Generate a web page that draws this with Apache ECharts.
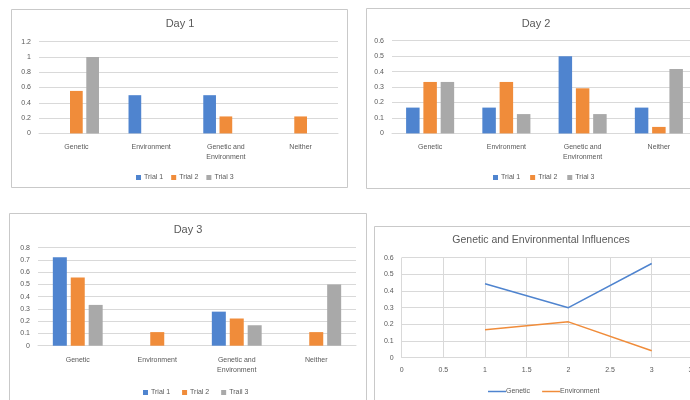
<!DOCTYPE html>
<html>
<head>
<meta charset="utf-8">
<script src="https://cdn.jsdelivr.net/npm/echarts@6/dist/echarts.min.js"></script>
<style>
  html, body { margin: 0; padding: 0; background: #ffffff; }
  #chart { width: 690px; height: 400px; }
</style>
</head>
<body>
<div id="chart"></div>
<script>
// Categories shared by the three daily bar charts
const categories = ['Genetic', 'Environment', 'Genetic and\nEnvironment', 'Neither'];

// Day 1 shares per trial
const day1Trial1 = [0, 0.5, 0.5, 0];
const day1Trial2 = [0.556, 0, 0.222, 0.222];
const day1Trial3 = [1, 0, 0, 0];

// Day 2 shares per trial
const day2Trial1 = [0.167, 0.167, 0.5, 0.167];
const day2Trial2 = [0.333, 0.333, 0.292, 0.042];
const day2Trial3 = [0.333, 0.125, 0.125, 0.417];

// Day 3 shares per trial
const day3Trial1 = [0.722, 0, 0.278, 0];
const day3Trial2 = [0.556, 0.111, 0.222, 0.111];
const day3Trial3 = [0.333, 0, 0.167, 0.5];

// Influence over days
const dayNumbers = [1, 2, 3];
const geneticInfluence = [0.444, 0.3, 0.565];
const environmentInfluence = [0.167, 0.215, 0.042];

const BLUE = '#4f84cf';
const ORANGE = '#f08c3a';
const GRAY = '#a9a9a9';
const TEXT = '#595959';
const GRID = '#d9d9d9';
const FONT = 'Liberation Sans';

function pairs(xs, ys) { return xs.map((x, i) => [x, ys[i]]); }

function catAxis(gridIndex) {
  return {
    type: 'category', gridIndex, data: categories,
    axisLine: { show: true, lineStyle: { color: GRID } },
    axisTick: { show: false },
    axisLabel: { color: TEXT, fontSize: 7, fontFamily: FONT, margin: 9, lineHeight: 10 }
  };
}
function valAxis(gridIndex, max, interval) {
  return {
    type: 'value', gridIndex, min: 0, max, interval,
    axisLine: { show: false }, axisTick: { show: false },
    axisLabel: { color: TEXT, fontSize: 7, fontFamily: FONT, margin: 8 },
    splitLine: { lineStyle: { color: GRID, width: 1 } }
  };
}
function barSeries(name, data, idx, color, width) {
  return {
    type: 'bar', name, data, xAxisIndex: idx, yAxisIndex: idx,
    barWidth: width, barGap: '28%', itemStyle: { color }, animation: false
  };
}
function title(text, cx, top, size) {
  return {
    text, left: cx, top, textAlign: 'center', padding: 0,
    textStyle: { color: TEXT, fontSize: size, fontWeight: 'normal', fontFamily: FONT }
  };
}
function legend(names, cx, top, extra) {
  return Object.assign({
    data: names, left: cx, top, itemWidth: 5, itemHeight: 5, itemGap: 8,
    padding: 0, selectedMode: false, icon: 'rect',
    textStyle: { color: TEXT, fontSize: 7, fontFamily: FONT, padding: [0, 0, 0, -2] }
  }, extra || {});
}
function frame(x, y, w, h) {
  return { type: 'rect', silent: true, shape: { x, y, width: w, height: h },
           style: { fill: 'none', stroke: '#c9c9c9', lineWidth: 1 } };
}
function grid(left, top, width, height) {
  return { left, top, width, height, outerBoundsMode: 'none', containLabel: false };
}

const chart = echarts.init(document.getElementById('chart'), null, { renderer: 'canvas' });
chart.setOption({
  animation: false,
  backgroundColor: '#ffffff',
  graphic: [
    frame(11.5, 9.5, 336, 178),
    frame(366.5, 8.5, 340, 180),
    frame(9.5, 213.5, 357, 200),
    frame(374.5, 226.5, 340, 200)
  ],
  title: [
    title('Day 1', 180, 18, 11),
    title('Day 2', 536, 18, 11),
    title('Day 3', 188, 224, 11),
    title('Genetic and Environmental Influences', 541, 235, 10.5)
  ],
  legend: [
    legend(['Trial 1', 'Trial 2', 'Trial 3'], 136, 174),
    legend(['Trial 1 ', 'Trial 2 ', 'Trial 3 '], 493, 174),
    legend(['Trial 1  ', 'Trial 2  ', 'Trail 3'], 143, 389),
    legend(['Genetic', 'Environment'], 488, 388,
      { icon: 'rect', itemWidth: 18, itemHeight: 1.5, itemGap: 12,
        textStyle: { color: TEXT, fontSize: 7, fontFamily: FONT, padding: [0, 0, 0, -5] } })
  ],
  grid: [
    grid(39, 41.7, 299, 91.7),
    grid(392, 40.7, 305, 92.7),
    grid(38, 247.7, 318, 98),
    grid(401.7, 257.7, 291.7, 100)
  ],
  xAxis: [
    catAxis(0), catAxis(1), catAxis(2),
    {
      type: 'value', gridIndex: 3, min: 0, max: 3.5, interval: 0.5,
      axisLine: { show: true, lineStyle: { color: GRID } }, axisTick: { show: false },
      axisLabel: { color: TEXT, fontSize: 7, fontFamily: FONT, margin: 9 },
      splitLine: { show: true, lineStyle: { color: GRID } }
    }
  ],
  yAxis: [
    valAxis(0, 1.2, 0.2), valAxis(1, 0.6, 0.1), valAxis(2, 0.8, 0.1), valAxis(3, 0.6, 0.1)
  ],
  series: [
    barSeries('Trial 1', day1Trial1, 0, BLUE, 12.7),
    barSeries('Trial 2', day1Trial2, 0, ORANGE, 12.7),
    barSeries('Trial 3', day1Trial3, 0, GRAY, 12.7),

    barSeries('Trial 1 ', day2Trial1, 1, BLUE, 13.5),
    barSeries('Trial 2 ', day2Trial2, 1, ORANGE, 13.5),
    barSeries('Trial 3 ', day2Trial3, 1, GRAY, 13.5),

    barSeries('Trial 1  ', day3Trial1, 2, BLUE, 14),
    barSeries('Trial 2  ', day3Trial2, 2, ORANGE, 14),
    barSeries('Trail 3', day3Trial3, 2, GRAY, 14),

    {
      type: 'line', name: 'Genetic', xAxisIndex: 3, yAxisIndex: 3,
      data: pairs(dayNumbers, geneticInfluence), symbol: 'none',
      lineStyle: { color: BLUE, width: 1.5 }, itemStyle: { color: BLUE }
    },
    {
      type: 'line', name: 'Environment', xAxisIndex: 3, yAxisIndex: 3,
      data: pairs(dayNumbers, environmentInfluence), symbol: 'none',
      lineStyle: { color: ORANGE, width: 1.5 }, itemStyle: { color: ORANGE }
    }
  ]
});
</script>
</body>
</html>
